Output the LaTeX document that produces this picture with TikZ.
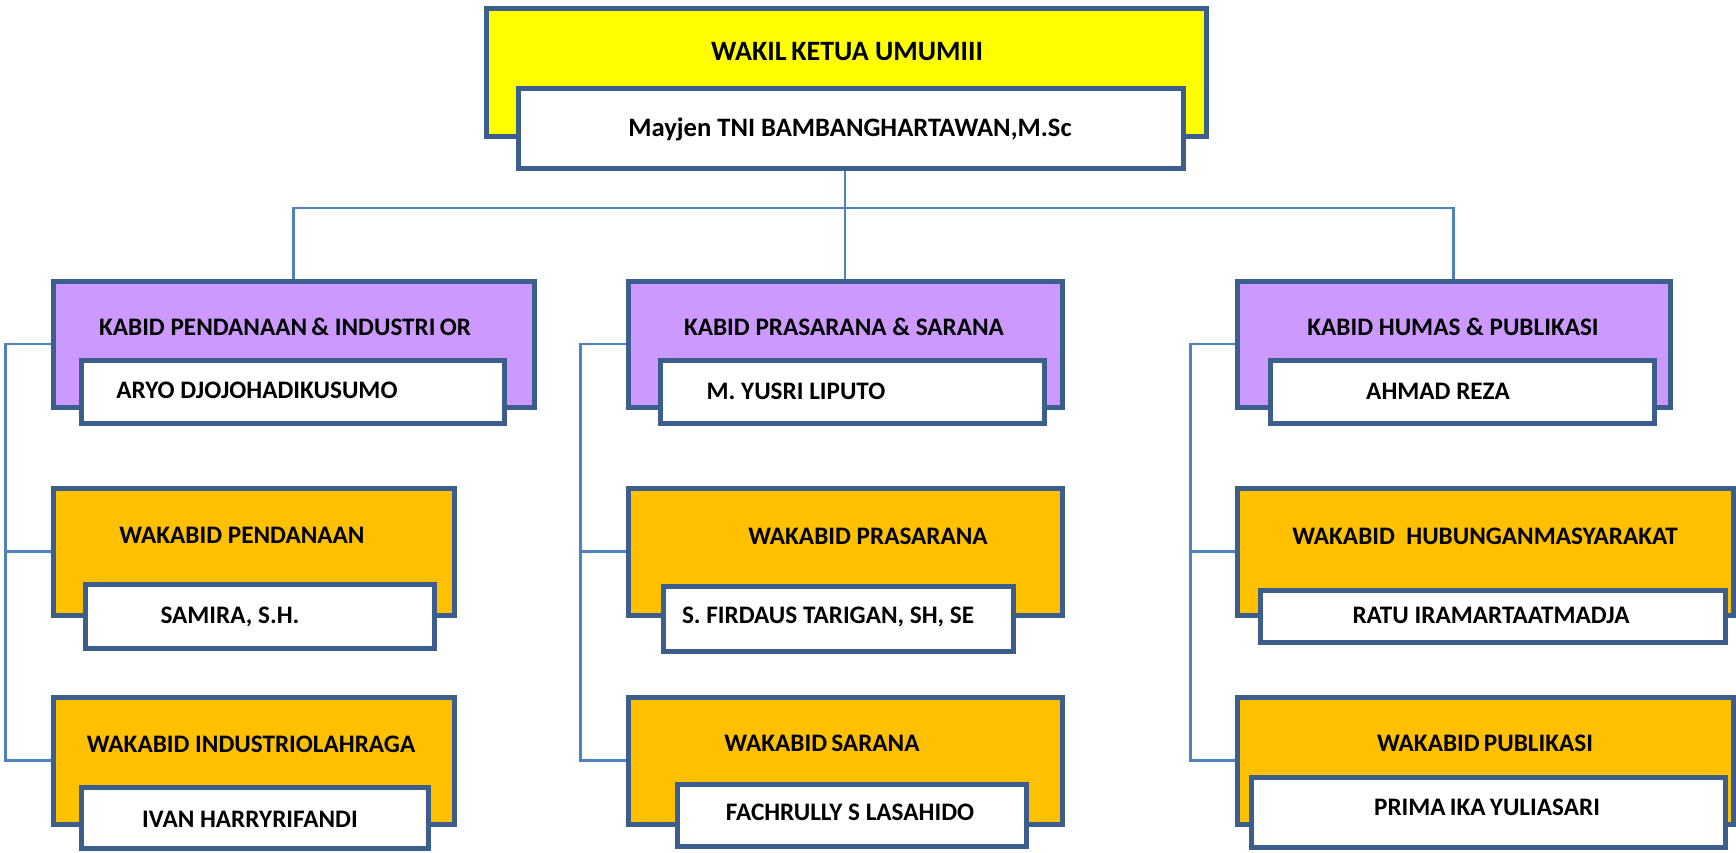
\documentclass[tikz,border=0pt]{standalone}
\usepackage{fontspec}
\setmainfont{Carlito}
\usetikzlibrary{positioning}
\definecolor{edgecol}{HTML}{3B5E8C}
\definecolor{wirecol}{HTML}{4F81BD}
\definecolor{headyellow}{HTML}{FFFF00}
\definecolor{kabidpurple}{HTML}{CC99FF}
\definecolor{wakabidorange}{HTML}{FFC000}

\begin{document}
\begin{tikzpicture}[x=0.5pt, y=-0.5pt,
    unit/.style={draw=edgecol, line width=2.5pt, rectangle, inner sep=0pt},
    sz/.style 2 args={minimum width=#1*0.5pt, minimum height=#2*0.5pt},
    head/.style={unit, fill=headyellow},
    kabid/.style={unit, fill=kabidpurple},
    wakabid/.style={unit, fill=wakabidorange},
    person/.style={unit, fill=white},
    txt/.style={anchor=base, inner sep=0pt, font=\bfseries\fontsize{12.6}{15}\selectfont},
    wire/.style={draw=wirecol, line width=1.1pt}]
\useasboundingbox (0,0) rectangle (1736,852);

% wakil ketua umum
\node[head, sz={720}{128}] (wku) at (846,72) {};
\node[person, sz={665}{80}] (wkun) at (850.5,128) {};
\node[txt, font=\bfseries\fontsize{14}{16}\selectfont] (t0) at (847,60) {WAKIL\,KETUA UMUMIII};
\node[txt, font=\bfseries\fontsize{13.3}{16}\selectfont] (t0n) at (850,136) {Mayjen TNI BAMBANGHARTAWAN,M.Sc};

% kabid
\node[kabid, sz={481}{126}] (kbL) at (293.5,344) {};
\node[person, sz={423}{63}] (kbLn) at (292.5,391.5) {};
\node[txt] (t1) at (285,335) {KABID PENDANAAN\,\& INDUSTRI\,OR};
\node[txt] (t1n) at (257,398) {ARYO DJOJOHADIKUSUMO};

\node[kabid, sz={434}{126}] (kbM) at (845,344) {};
\node[person, sz={384}{63}] (kbMn) at (852,391.5) {};
\node[txt] (t2) at (844,335) {KABID PRASARANA \& SARANA};
\node[txt] (t2n) at (796,399) {M. YUSRI LIPUTO};

\node[kabid, sz={433}{126}] (kbR) at (1453.5,344) {};
\node[person, sz={384}{63}] (kbRn) at (1462,391.5) {};
\node[txt] (t3) at (1453,335) {KABID HUMAS \& PUBLIKASI};
\node[txt] (t3n) at (1438,399) {AHMAD REZA};

% wakabid
\node[wakabid, sz={401}{127}] (wbL1) at (253.5,551.5) {};
\node[person, sz={349}{64}] (wbL1n) at (260,616) {};
\node[txt] (t4) at (242,543) {WAKABID PENDANAAN};
\node[txt] (t4n) at (230,623) {SAMIRA, S.H.};

\node[wakabid, sz={401}{127}] (wbL2) at (253.5,760.5) {};
\node[person, sz={347}{61}] (wbL2n) at (254.5,818) {};
\node[txt] (t5) at (251,752) {WAKABID INDUSTRIOLAHRAGA};
\node[txt] (t5n) at (250,827) {IVAN HARRYRIFANDI};

\node[wakabid, sz={434}{127}] (wbM1) at (845,551.5) {};
\node[person, sz={350}{65}] (wbM1n) at (838,618.5) {};
\node[txt] (t6) at (868,544) {WAKABID PRASARANA};
\node[txt] (t6n) at (828,623) {S. FIRDAUS TARIGAN, SH, SE};

\node[wakabid, sz={434}{127}] (wbM2) at (845,760.5) {};
\node[person, sz={349}{62}] (wbM2n) at (851.5,815) {};
\node[txt] (t7) at (822,751) {WAKABID\,SARANA};
\node[txt] (t7n) at (850,820) {FACHRULLY S LASAHIDO};

\node[wakabid, sz={496}{127}] (wbR1) at (1485,551.5) {};
\node[person, sz={465}{52}] (wbR1n) at (1492.5,616) {};
\node[txt] (t8) at (1485,544) {WAKABID\ \ HUBUNGANMASYARAKAT};
\node[txt] (t8n) at (1491,623) {RATU IRAMARTAATMADJA};

\node[wakabid, sz={496}{127}] (wbR2) at (1485,760.5) {};
\node[person, sz={474}{70}] (wbR2n) at (1488,812) {};
\node[txt] (t9) at (1485,751) {WAKABID\,PUBLIKASI};
\node[txt] (t9n) at (1487,815) {PRIMA\,IKA\,YULIASARI};

% lines
\coordinate (bus) at (846,208);
\draw[wire] (kbM.north) -- (kbM.north |- wkun.south);
\draw[wire] (kbL.north) |- (bus) -| (kbR.north);

\draw[wire] (kbL.west) -- ++(-45,0) coordinate (bL) |- (wbL2.west);
\draw[wire] (wbL1.west) -- (wbL1.west -| bL);
\draw[wire] (kbM.west) -- ++(-45,0) coordinate (bM) |- (wbM2.west);
\draw[wire] (wbM1.west) -- (wbM1.west -| bM);
\draw[wire] (kbR.west) -- ++(-44,0) coordinate (bR) |- (wbR2.west);
\draw[wire] (wbR1.west) -- (wbR1.west -| bR);
\end{tikzpicture}
\end{document}
